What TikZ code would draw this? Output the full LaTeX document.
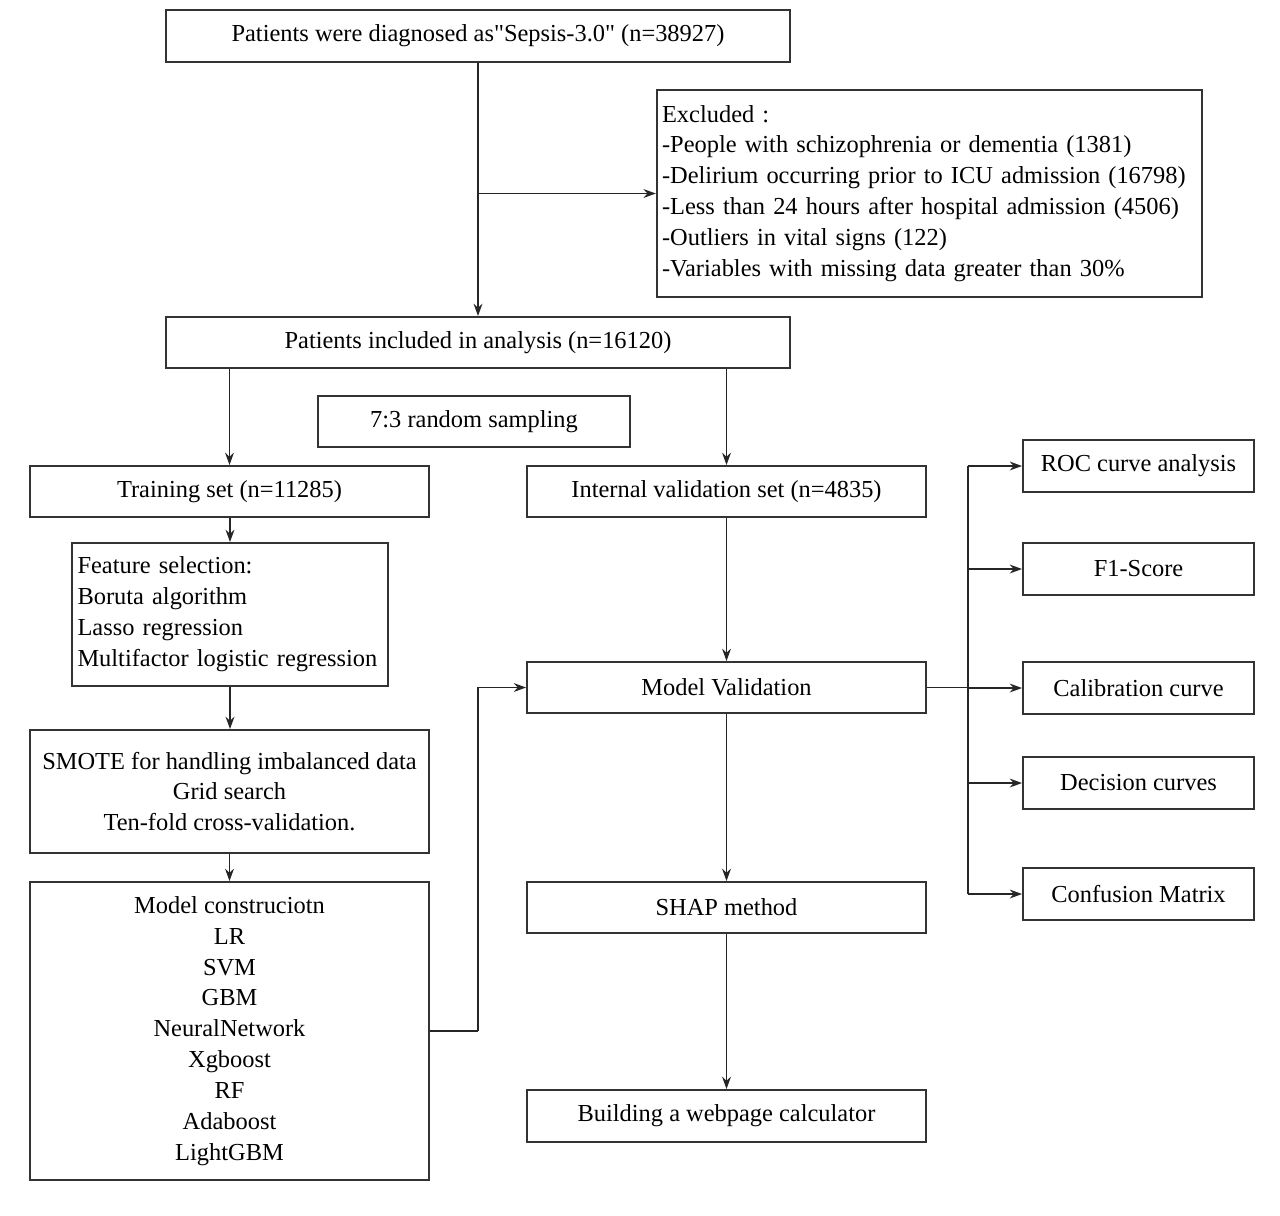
\documentclass[tikz,border=0pt]{standalone}
\usepackage{fontspec}
\setmainfont{Liberation Serif}
\newfontfamily\qf{Liberation Serif}
\usetikzlibrary{arrows.meta}
\begin{document}
\begin{tikzpicture}[x=0.02cm,y=-0.02cm,
  box/.style={draw=black!80,line width=1.1pt,font=\fontsize{13.9}{17.6}\selectfont,inner sep=3pt,align=center},
  arr/.style={-{Stealth[length=7pt,width=5pt]},line width=1.1pt,draw=black!85},
  ln/.style={line width=1.1pt,draw=black!85}]
\useasboundingbox (0,0) rectangle (1280,1215);
\node[box,minimum width=12.48cm,minimum height=1.04cm] (top) at (478,36) {Patients were diagnosed as{\qf"}Sepsis-3.0{\qf"} (n=38927)};
\node[box,minimum width=10.9cm,minimum height=4.14cm,text width=10.7cm,align=left] (excl) at (929.5,193.5) {Excluded :\\-People with schizophrenia or dementia (1381)\\-Delirium occurring prior to ICU admission (16798)\\-Less than 24 hours after hospital admission (4506)\\-Outliers in vital signs (122)\\-Variables with missing data greater than 30\%};
\node[box,minimum width=12.48cm,minimum height=1.02cm] (inc) at (478,342.5) {Patients included in analysis (n=16120)};
\node[box,minimum width=6.24cm,minimum height=1.02cm] (rand) at (474,421.5) {7:3 random sampling};
\node[box,minimum width=7.98cm,minimum height=1.02cm] (train) at (229.5,491.5) {Training set (n=11285)};
\node[box,minimum width=7.98cm,minimum height=1.02cm] (ival) at (726.5,491.5) {Internal validation set (n=4835)};
\node[box,minimum width=6.28cm,minimum height=2.86cm,text width=6.1cm,align=left] (feat) at (230,614.5) {Feature selection:\\Boruta algorithm\\Lasso regression\\Multifactor logistic regression};
\node[box,minimum width=7.98cm,minimum height=2.46cm] (smote) at (229.5,791.5) {SMOTE for handling imbalanced data\\Grid search\\Ten-fold cross-validation.};
\node[box,minimum width=7.98cm,minimum height=5.96cm] (mc) at (229.5,1031) {Model construciotn\\LR\\SVM\\GBM\\NeuralNetwork\\Xgboost\\RF\\Adaboost\\LightGBM};
\node[box,minimum width=7.98cm,minimum height=1.02cm] (mv) at (726.5,687.5) {Model Validation};
\node[box,minimum width=7.98cm,minimum height=1.02cm] (shap) at (726.5,907.5) {SHAP method};
\node[box,minimum width=7.98cm,minimum height=1.04cm] (web) at (726.5,1116) {Building a webpage calculator};
\node[box,minimum width=4.62cm,minimum height=1.04cm] (roc) at (1138.5,466) {ROC curve analysis};
\node[box,minimum width=4.62cm,minimum height=1.04cm] (f1) at (1138.5,569) {F1-Score};
\node[box,minimum width=4.62cm,minimum height=1.04cm] (cal) at (1138.5,688) {Calibration curve};
\node[box,minimum width=4.62cm,minimum height=1.04cm] (dec) at (1138.5,783) {Decision curves};
\node[box,minimum width=4.62cm,minimum height=1.04cm] (conf) at (1138.5,894) {Confusion Matrix};
\coordinate (br) at (478,193.5);
\coordinate (vt) at (968,466);
\coordinate (vb) at (968,894);
\coordinate (mj) at (478,1031);
\draw[arr] (top.south) -- (inc.north);
\draw[arr] (br) -- (excl.west);
\draw[arr] (inc.south -| train.north) -- (train.north);
\draw[arr] (inc.south -| ival.north) -- (ival.north);
\draw[arr] (train.south -| feat.north) -- (feat.north);
\draw[arr] (feat.south) -- (feat.south |- smote.north);
\draw[arr] (smote.south) -- (mc.north);
\draw[ln] (mc.east) -- (mj);
\draw[arr] (mj) |- (mv.west);
\draw[arr] (ival.south) -- (mv.north);
\draw[arr] (mv.south) -- (shap.north);
\draw[arr] (shap.south) -- (web.north);
\draw[ln] (vt) -- (vb);
\draw[ln] (mv.east) -- (mv.east -| vt);
\foreach \b in {roc,f1,cal,dec,conf} \draw[arr] (vt |- \b.west) -- (\b.west);
\end{tikzpicture}
\end{document}
